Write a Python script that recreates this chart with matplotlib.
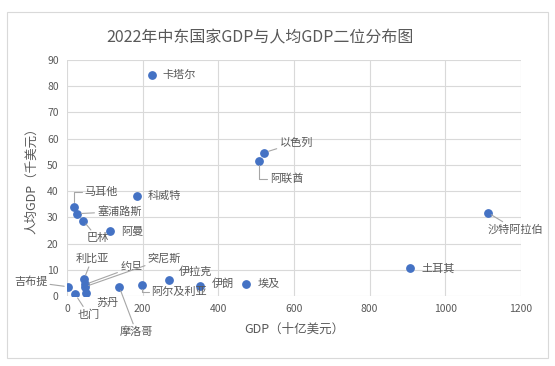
import matplotlib.pyplot as plt
from matplotlib.patches import Rectangle

plt.rcParams['font.family'] = ['Noto Sans CJK SC', 'DejaVu Sans']

countries = ['卡塔尔', '以色列', '阿联酋', '沙特阿拉伯', '土耳其', '科威特', '马耳他',
             '塞浦路斯', '巴林', '阿曼', '利比亚', '约旦', '突尼斯', '吉布提', '也门',
             '苏丹', '摩洛哥', '阿尔及利亚', '伊拉克', '伊朗', '埃及']
gdp = [224, 522, 508, 1112, 906, 184, 18, 27, 43, 114, 45, 48, 47, 3.5, 22,
       51, 138, 197, 270, 351, 474]
gdp_per_capita = [84.2, 54.7, 51.5, 31.8, 10.5, 38.3, 34.1, 31.4, 28.7, 24.6, 6.5,
                  4.4, 3.5, 3.5, 0.6, 1.0, 3.5, 4.2, 6.2, 3.8, 4.5]

x_ticks = [0, 200, 400, 600, 800, 1000, 1200]
y_ticks = [0, 10, 20, 30, 40, 50, 60, 70, 80, 90]

# label placement: (dx px, dy px, ha, leader line)
label_offsets = {
    '卡塔尔': (11, 0, 'left', None),
    '以色列': (15, 10, 'left', 'arc3'),
    '阿联酋': (11, -18, 'left', 'angle,angleA=0,angleB=90,rad=0'),
    '沙特阿拉伯': (28, -17, 'center', 'arc3'),
    '土耳其': (12, 0, 'left', None),
    '科威特': (11, 0, 'left', None),
    '马耳他': (11, 15, 'left', 'angle,angleA=0,angleB=90,rad=0'),
    '塞浦路斯': (20, 2, 'left', 'arc3'),
    '巴林': (14, -17, 'center', 'arc3'),
    '阿曼': (11, 0, 'left', None),
    '利比亚': (8, 20, 'center', 'arc3'),
    '约旦': (35, 17, 'left', 'arc3'),
    '突尼斯': (63, 28, 'left', 'arc3'),
    '吉布提': (-21, 5, 'right', 'arc3'),
    '也门': (13, -20, 'center', 'arc3'),
    '苏丹': (21, -9, 'center', None),
    '摩洛哥': (17, -45, 'center', 'arc3'),
    '阿尔及利亚': (10, -7, 'left', 'angle,angleA=0,angleB=90,rad=0'),
    '伊拉克': (10, 8, 'left', None),
    '伊朗': (12, 2, 'left', None),
    '埃及': (11, 0, 'left', None),
}

text_color = '#595959'
grid_color = '#D9D9D9'

fig = plt.figure(figsize=(5.55, 3.66), dpi=100)
ax = fig.add_axes([67/555, 1 - 296/366, (521 - 67)/555, (296 - 60)/366])

ax.scatter(gdp, gdp_per_capita, s=28, color='#4472C4', zorder=3)

for name, x, y in zip(countries, gdp, gdp_per_capita):
    dx, dy, ha, conn = label_offsets[name]
    props = None
    if conn:
        props = dict(arrowstyle='-', color='#A6A6A6', lw=0.8, shrinkA=0, shrinkB=3,
                     connectionstyle=conn)
    ax.annotate(name, (x, y), xytext=(dx, dy), textcoords='offset pixels',
                ha=ha, va='center', fontsize=8, color=text_color, arrowprops=props)

ax.set_xlim(0, 1200)
ax.set_ylim(0, 90)
ax.set_xticks(x_ticks)
ax.set_yticks(y_ticks)
ax.tick_params(length=0, labelsize=7.5, labelcolor=text_color, pad=6)
ax.grid(True, color=grid_color, lw=0.8)
ax.set_axisbelow(True)
for s in ax.spines.values():
    s.set_visible(False)

ax.set_xlabel('GDP（十亿美元）', fontsize=9, color=text_color, labelpad=6)
ax.set_ylabel('人均GDP（千美元）', fontsize=9, color=text_color, labelpad=6)

fig.text(260/555, 1 - 38/366, '2022年中东国家GDP与人均GDP二位分布图',
         ha='center', va='center', fontsize=11.5, color=text_color)

fig.patches.append(Rectangle((7/555, 8/366), (548 - 7)/555, (356 - 10)/366,
                             transform=fig.transFigure, fill=False,
                             ec=grid_color, lw=0.8))

fig.savefig('out.png', dpi=100)
